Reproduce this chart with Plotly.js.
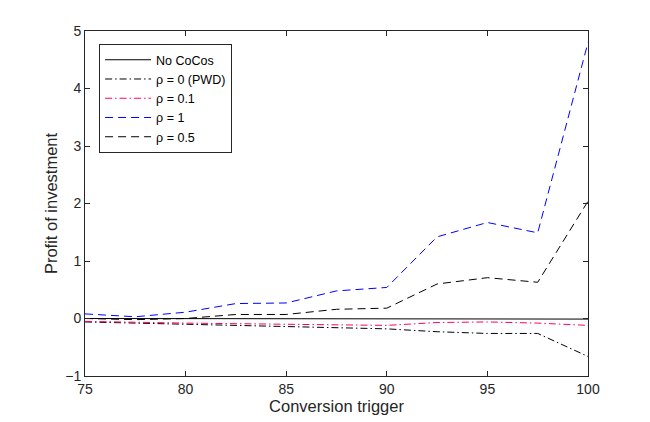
<!DOCTYPE html>
<html>
<head>
<meta charset="utf-8">
<script src="https://cdn.plot.ly/plotly-3.0.1.min.js"></script>
<style>
  html, body { margin: 0; padding: 0; background: #fff; }
  #chart { width: 650px; height: 422px; }
</style>
</head>
<body>
<div id="chart"></div>
<script>
// conversion trigger levels
const trigger = [75, 77.5, 80, 82.5, 85, 87.5, 90, 92.5, 95, 97.5, 100];

// profit of investment per scenario
const noCocos = [0, 0, 0, 0, 0, 0, 0, 0, 0, 0, -0.01];
const rho0    = [-0.06, -0.08, -0.09, -0.11, -0.13, -0.15, -0.18, -0.23, -0.26, -0.26, -0.66];
const rho01   = [-0.05, -0.07, -0.08, -0.09, -0.10, -0.11, -0.12, -0.07, -0.06, -0.08, -0.12];
const rho1    = [0.08, 0.03, 0.11, 0.26, 0.27, 0.48, 0.54, 1.42, 1.67, 1.49, 4.8];
const rho05   = [0.0, -0.02, 0.0, 0.07, 0.07, 0.16, 0.18, 0.60, 0.71, 0.63, 2.04];

const names = ['No CoCos', 'ρ = 0 (PWD)', 'ρ = 0.1', 'ρ = 1', 'ρ = 0.5'];

const dashDot = '7px,3px,1.5px,3px';
const dashed = '8px,5px';

const traces = [
  { y: noCocos, name: names[0], line: { color: '#000000', width: 1, dash: 'solid' } },
  { y: rho0,    name: names[1], line: { color: '#000000', width: 1, dash: dashDot } },
  { y: rho01,   name: names[2], line: { color: '#ff0066', width: 1, dash: dashDot } },
  { y: rho1,    name: names[3], line: { color: '#0000ff', width: 1, dash: dashed } },
  { y: rho05,   name: names[4], line: { color: '#000000', width: 1, dash: dashed } }
].map(t => Object.assign({ type: 'scatter', mode: 'lines', x: trigger }, t));

const axisStyle = {
  showgrid: false,
  zeroline: false,
  showline: true,
  linecolor: '#262626',
  linewidth: 1,
  mirror: 'ticks',
  ticks: 'inside',
  ticklen: 5,
  tickcolor: '#262626',
  tickfont: { size: 14, color: '#262626' }
};

const layout = {
  width: 650,
  height: 422,
  margin: { l: 85, r: 62, t: 31, b: 46 },
  paper_bgcolor: '#ffffff',
  plot_bgcolor: '#ffffff',
  font: { family: 'Liberation Sans, Arial, sans-serif', color: '#262626' },
  showlegend: true,
  legend: {
    x: 0.028, y: 0.962, xanchor: 'left', yanchor: 'top',
    bgcolor: '#ffffff',
    bordercolor: '#262626',
    borderwidth: 1,
    font: { size: 12.5, color: '#000000' },
    itemwidth: 46,
    tracegroupgap: 0
  },
  xaxis: Object.assign({}, axisStyle, {
    range: [75, 100],
    dtick: 5,
    title: { text: 'Conversion trigger', font: { size: 16.5, color: '#262626' }, standoff: 2 }
  }),
  yaxis: Object.assign({}, axisStyle, {
    range: [-1, 5],
    dtick: 1,
    title: { text: 'Profit of investment', font: { size: 16.5, color: '#262626' }, standoff: 3 }
  })
};

Plotly.newPlot('chart', traces, layout, { displayModeBar: false, staticPlot: true });
</script>
</body>
</html>
